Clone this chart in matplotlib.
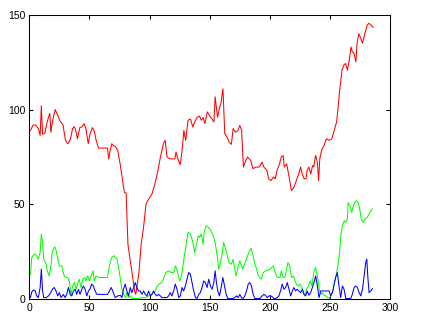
import matplotlib
matplotlib.use("Agg")
import matplotlib.pyplot as plt

# values (x positions, series values)
red_x = [1, 3, 5, 7.5, 9, 10, 11, 13, 14.5, 16, 17, 18, 19, 20, 21.5, 23, 25.5, 28,
         30, 32, 34, 36, 37.5, 39, 40, 42, 44, 45.5, 47, 49, 50.5, 52.5, 54, 55.5,
         57.5, 62, 65, 66, 67, 68.5, 70, 71.5, 73.5, 75.5, 77.5, 79, 80.5, 82, 84,
         86, 87.5, 88.5, 91, 93, 95, 97, 98.5, 102, 104.5, 107, 109, 111.5, 113,
         114.5, 117, 121, 122, 123.5, 125.5, 127, 128.5, 130, 132, 134, 136, 137.5,
         139.5, 141.5, 143, 144.5, 146, 148, 150.5, 152, 153.5, 154.5, 155.5, 156.5,
         158, 159.5, 161, 162.5, 164.5, 166, 168, 169.5, 171.5, 173.5, 175, 176.5,
         178, 180, 181.5, 184, 186, 188, 191, 192.5, 193.5, 195, 197.5, 199, 201,
         203, 204.5, 206, 208, 209.5, 211, 212, 214, 215, 216.5, 218, 220, 222, 224,
         225.5, 227, 228.5, 230, 231, 232.5, 234, 235.5, 236.5, 238, 239.5, 240.5,
         241.5, 243, 245, 247, 249, 251.5, 253.5, 255.5, 256.5, 258, 260, 261.5, 263,
         264.5, 266, 267.5, 268.5, 270, 271.5, 272.5, 274, 275.5, 277, 279, 281,
         282.5, 284, 286]
red_y = [89, 91.7, 92, 90, 86.4, 102, 87, 87.6, 92.6, 96, 98, 88, 92.6, 96, 100, 98,
         94, 92, 84, 82, 84, 90, 91, 88, 84.6, 90.5, 91, 92.6, 90, 82, 87.3, 90.5,
         88.7, 84, 79.7, 79.7, 79.7, 74, 77.6, 82, 81, 80.6, 78.5, 71.4, 62.6, 56.4,
         56, 29, 20, 11.5, 4.4, 2.6, 13.2, 29, 38, 50, 52, 55.5, 61, 68, 75, 82,
         83.8, 75, 74, 74, 77.6, 74, 71, 78.5, 89, 83.8, 94.4, 95, 90.8, 93.5, 96,
         96.5, 94.4, 95.8, 92.6, 98.8, 96, 95, 93.5, 106.7, 101.4, 96, 100.5, 104,
         111, 87.3, 85.5, 83, 81.7, 90, 88, 89, 91.7, 89, 69.7, 73.2, 75, 73.2, 68.8,
         69.7, 69.7, 71, 72.3, 69.7, 68, 63.5, 62.6, 64.4, 63.5, 68, 71.4, 75, 75.8,
         69.7, 71.4, 68, 62.6, 57.3, 59, 62.6, 66, 69.7, 66, 63.5, 63.5, 68, 69.7,
         66, 70.5, 69.7, 75.8, 72.3, 62.6, 74, 78.5, 81, 84.6, 83.8, 84.6, 89, 93.5,
         99.6, 110, 120.8, 123.5, 124.3, 120.8, 126, 133, 130.5, 129.6, 125.2, 135,
         140, 137.6, 135, 140, 144.6, 145.5, 144.6, 143.4]

green_x = [1, 2, 4, 6, 7.5, 9, 10, 11, 12, 14, 15, 16.5, 18, 19, 21, 22, 23.5, 25, 27,
           29, 30.5, 32, 33.5, 34.5, 36, 37.5, 39, 40, 41.5, 43, 44.5, 46, 47, 48.5,
           50, 51.5, 53, 54, 55.5, 57.5, 62, 65, 66.5, 68.5, 70.5, 71.5, 73, 74, 75.5,
           77, 78.5, 80, 81, 82.5, 84, 85.5, 88.5, 91, 94, 96.5, 99.5, 102, 104.5,
           106.5, 108, 110, 112, 113.5, 116, 118, 120, 121.5, 123, 125, 126.5, 128.5,
           130.5, 132, 134, 136, 137.5, 139, 140.5, 141.5, 143, 144.5, 145.5, 147,
           149, 151, 153, 154.5, 156, 157.5, 159, 160.5, 161.5, 163, 164.5, 166, 168,
           169.5, 171, 172, 173.5, 175, 176.5, 177.5, 179, 181, 183, 184.5, 186, 187.5,
           189, 190, 191.5, 193, 194.5, 196.5, 198.5, 200, 201.5, 203, 204, 205.5, 207,
           208.5, 209.5, 211, 212.5, 214, 215, 216.5, 218, 219.5, 221, 222, 223.5, 225,
           226.5, 228, 229, 230.5, 232, 233.5, 235, 236.5, 238, 239.5, 241, 242.5,
           243.5, 245, 246.5, 248, 249.5, 251, 252.5, 253.5, 255, 256.5, 258, 259,
           260.5, 262, 263, 264.5, 265, 266.5, 268, 269, 270.5, 272, 273.5, 275, 276,
           277.5, 279, 281, 282.5, 284, 285.5]
green_y = [13.2, 22, 23.8, 23, 21, 24.7, 34.4, 30, 21, 18.5, 15, 12.3, 17.6, 24.7,
           27.7, 26.5, 22, 17.6, 17.6, 12.3, 11.5, 11.5, 8.8, 1.8, 7, 8.8, 5.3, 8,
           10.6, 6.2, 10.6, 11.5, 9.7, 12.3, 9.7, 12.3, 15, 9.7, 12.3, 11.5, 11.5,
           11.5, 17.6, 22, 23, 22, 21, 17.6, 11.5, 5.3, 2.6, 0.9, 3.5, 0.9, 1.8, 0.4,
           0.4, 0.4, 0.9, 0.9, 1.8, 2.6, 4.4, 7, 8, 8.8, 11.5, 14.1, 15, 14.1, 14.1,
           17.6, 15, 9.7, 12.3, 21, 29, 35.3, 34.4, 30, 24.7, 29, 33.5, 32.6, 34.4, 29,
           36.2, 38.8, 37.9, 36.2, 33.5, 30, 23.8, 15.9, 19.4, 24.7, 30, 27.3, 23,
           19.4, 18.5, 21, 15, 12.3, 16.8, 20.3, 17.6, 15.9, 18.5, 22, 25.6, 26.8, 23,
           18.5, 15.9, 13.2, 11.5, 10.6, 14.1, 15, 15.4, 15.9, 16.8, 17.6, 15, 12.3,
           11.5, 11.5, 15, 11.5, 11.5, 15.9, 19.4, 17.6, 11.5, 12.3, 9.7, 8, 7, 8, 6.2,
           3.5, 1.8, 5.3, 7, 9.7, 7, 14.1, 16.8, 12.3, 5.3, 2.6, 3.5, 2.1, 1.8, 0.9,
           0.6, 2.6, 4.4, 7.9, 12.3, 17.6, 24.7, 33.5, 39.7, 41.4, 40.6, 42.3, 51,
           49.4, 45.9, 48.5, 51, 52, 51, 46.7, 42.3, 40.6, 42.3, 43.2, 45, 46.7, 47.6]

blue_x = [1, 2, 3.5, 5, 6, 7.5, 9, 10, 11, 12, 14, 16, 17.8, 19.5, 20.8, 22.2, 23.6,
          25, 26.4, 28.3, 29.7, 31.1, 32.5, 33.9, 35.3, 36.7, 38.1, 39.4, 40.8, 42.2,
          43.6, 45, 46.4, 47.8, 49.2, 50.6, 51.9, 53.3, 54.7, 56.1, 58.9, 65, 66.7,
          68.1, 69.4, 70.8, 71.4, 73.6, 75.6, 77, 78.3, 79.7, 81.1, 82.5, 83.9, 85.3,
          86.7, 88.1, 89.4, 90.8, 92.2, 93.6, 95, 96.4, 97.8, 99.2, 100.6, 101.9,
          103.3, 104.7, 106.1, 107.5, 108.9, 110.3, 114.4, 115.8, 117.2, 118.6, 120,
          121.4, 122.8, 124.2, 125.6, 126.9, 128.3, 129.7, 131.1, 132.5, 133.9, 135.3,
          136.7, 138.1, 139.4, 140.8, 142.2, 143.6, 145, 146.4, 147.8, 149.2, 150.6,
          152, 153.4, 154.5, 155.6, 156.7, 158.1, 159.5, 160.9, 162.3, 163.7, 165,
          169.5, 170.9, 172.3, 173.6, 175, 176.4, 177.8, 179.2, 180.6, 182, 183.4,
          184.7, 186.1, 187.5, 191.7, 193.6, 195, 196.4, 197.8, 199.2, 200.6, 201.9,
          203.4, 204.7, 206.1, 207.5, 208.9, 210.3, 211.7, 213.1, 214.5, 215.9, 217.3,
          218.7, 220, 221.4, 222.8, 224.2, 225.6, 227, 228.4, 229.8, 231.1, 232.5,
          233.9, 235.3, 236.7, 238.1, 239.5, 240.9, 242.3, 249.2, 250.6, 252, 253.4,
          254.7, 256.1, 257.5, 258.9, 260.3, 261.7, 263.1, 267.2, 268.6, 270, 271.4,
          272.8, 274.2, 275.6, 277, 278.4, 279.7, 280.6, 281.4, 282.5, 283.9, 285.3]
blue_y = [0.9, 3.9, 4.9, 4.4, 1.8, 0.9, 6.2, 15.9, 4.4, 0.9, 0.9, 1.8, 3.5, 5.6, 6.2,
          4.4, 1.8, 3.5, 0.9, 2.6, 0.9, 2.6, 6.2, 2.6, 1.8, 4.4, 5.3, 2.6, 5.3, 2.6,
          5.3, 7, 5.3, 1.8, 4.4, 5.6, 8, 7, 4.4, 2.6, 2.6, 2.6, 4.4, 6.2, 4.4, 1.8,
          0.9, 1.8, 2.1, 0.9, 5.3, 8, 4.4, 1.8, 6.2, 3.5, 6.2, 8.8, 6.2, 4.4, 4.4,
          2.6, 4.4, 2.6, 1.8, 4.4, 1.8, 2.6, 4.4, 2.6, 1.8, 2.6, 1.8, 0.9, 0.9, 1.8,
          3.5, 1.8, 4.4, 8, 5.3, 0.9, 1.8, 6.2, 4.4, 7, 10.6, 14.1, 13.2, 8.8, 4.4,
          0.9, 0.4, 2.6, 3.5, 6.2, 9.7, 8.8, 6.2, 10.6, 7, 5.3, 8.8, 15, 8.8, 4.4,
          1.8, 6.2, 11.5, 7, 2.6, 0.4, 0.4, 0.9, 1.8, 0.9, 2.6, 0.9, 0.4, 1.8, 4.4,
          8, 8.8, 7, 2.6, 0.4, 0.4, 1.8, 2.6, 2.1, 0.9, 1.8, 1.8, 1.4, 0.4, 0.4, 0.9,
          1.8, 4.4, 8, 5.3, 6.2, 8.8, 5.3, 1.8, 4.4, 6.2, 4.4, 5.3, 4.4, 3.5, 5.3,
          2.6, 1.8, 4.4, 2.1, 3.5, 6.2, 8.8, 12.3, 7, 0.9, 4.4, 4.4, 1.8, 3.5, 7.9,
          11.5, 14.1, 7, 0.9, 7, 5.3, 0.4, 0.4, 2.6, 6.2, 7, 6.2, 3.5, 1.8, 5.3, 12.3,
          19.4, 21.2, 12.3, 3.5, 4.4, 5.6]

x_ticks = [0, 50, 100, 150, 200, 250, 300]
y_ticks = [0, 50, 100, 150]

plt.rcParams["font.family"] = ["Liberation Sans", "DejaVu Sans"]

fig = plt.figure(figsize=(4.23, 3.23), dpi=100)
ax = fig.add_axes([0.0693, 0.0734, 0.853, 0.881])

ax.plot(red_x, red_y, color="#ff0000", linewidth=0.75)
ax.plot(green_x, green_y, color="#00ff00", linewidth=0.75)
ax.plot(blue_x, blue_y, color="#0000ff", linewidth=0.75)

ax.set_xlim(0, 300)
ax.set_ylim(0, 150)
ax.set_xticks(x_ticks)
ax.set_yticks(y_ticks)

ax.tick_params(direction="in", length=3, width=0.75, labelsize=7.5, pad=3,
               top=True, right=True)
for spine in ax.spines.values():
    spine.set_linewidth(0.75)

fig.savefig("out.png", dpi=100)
